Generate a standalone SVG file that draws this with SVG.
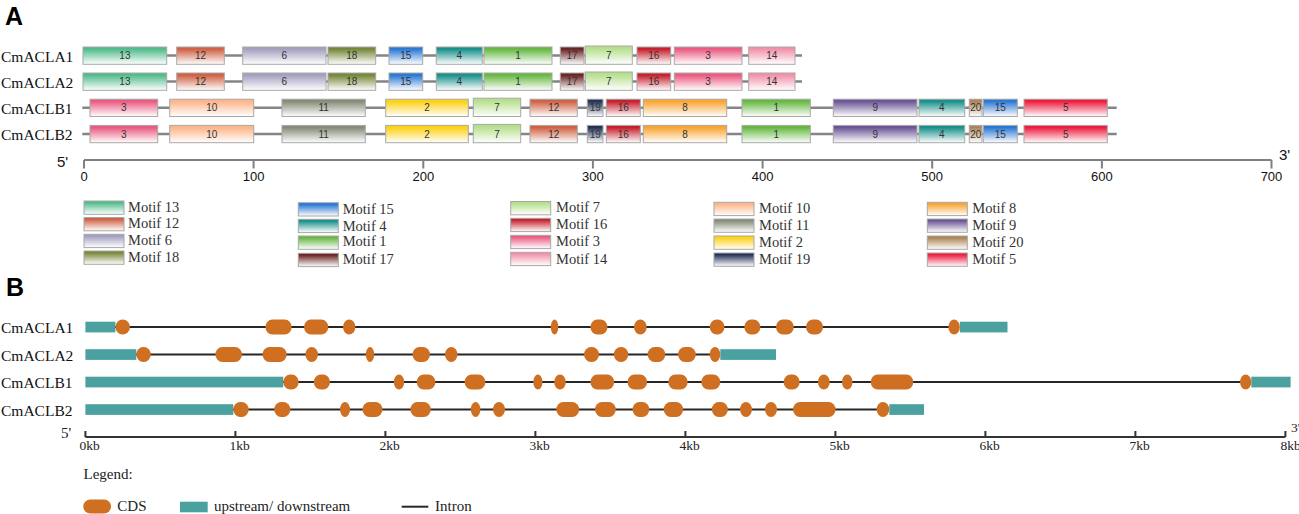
<svg xmlns="http://www.w3.org/2000/svg" width="1299" height="514" viewBox="0 0 1299 514">
<style>
.pl{font-family:"Liberation Sans",Arial,sans-serif;font-weight:bold;font-size:25px;fill:#000}
.gn{font-family:"Liberation Serif","Times New Roman",serif;font-size:15.5px;fill:#111}
.bx{stroke:#a8a8a8;stroke-width:1}
.bn{font-family:"Liberation Sans",Arial,sans-serif;font-size:10px;fill:#333;text-anchor:middle}
.bb{stroke:#858585;stroke-width:2.5}
.ax{stroke:#808080;stroke-width:2;fill:none}
.axt{font-family:"Liberation Sans",Arial,sans-serif;font-size:13px;fill:#111;text-anchor:middle}
.pr{font-family:"Liberation Sans",Arial,sans-serif;font-size:15px;fill:#111}
.lg{font-family:"Liberation Serif","Times New Roman",serif;font-size:14.5px;fill:#333}
.lb{font-family:"Liberation Serif","Times New Roman",serif;font-size:15px;fill:#222}
.cds{fill:#cf6f22}
.utr{fill:#4aa19f}
.intr{stroke:#262626;stroke-width:2}
.axb{stroke:#333;stroke-width:2;fill:none}
.kb{font-family:"Liberation Serif","Times New Roman",serif;font-size:13.5px;fill:#222}
</style>
<defs>
<linearGradient id="m1" x1="0" y1="0" x2="0" y2="1"><stop offset="0" stop-color="#66b843"/><stop offset="0.12" stop-color="#66b843"/><stop offset="1" stop-color="#fff"/></linearGradient>
<linearGradient id="m2" x1="0" y1="0" x2="0" y2="1"><stop offset="0" stop-color="#fcd116"/><stop offset="0.12" stop-color="#fcd116"/><stop offset="1" stop-color="#fff"/></linearGradient>
<linearGradient id="m3" x1="0" y1="0" x2="0" y2="1"><stop offset="0" stop-color="#ea5a80"/><stop offset="0.12" stop-color="#ea5a80"/><stop offset="1" stop-color="#fff"/></linearGradient>
<linearGradient id="m4" x1="0" y1="0" x2="0" y2="1"><stop offset="0" stop-color="#19908a"/><stop offset="0.12" stop-color="#19908a"/><stop offset="1" stop-color="#fff"/></linearGradient>
<linearGradient id="m5" x1="0" y1="0" x2="0" y2="1"><stop offset="0" stop-color="#ee1c3e"/><stop offset="0.12" stop-color="#ee1c3e"/><stop offset="1" stop-color="#fff"/></linearGradient>
<linearGradient id="m6" x1="0" y1="0" x2="0" y2="1"><stop offset="0" stop-color="#a3a0bf"/><stop offset="0.12" stop-color="#a3a0bf"/><stop offset="1" stop-color="#fff"/></linearGradient>
<linearGradient id="m7" x1="0" y1="0" x2="0" y2="1"><stop offset="0" stop-color="#b5df8c"/><stop offset="0.12" stop-color="#b5df8c"/><stop offset="1" stop-color="#fff"/></linearGradient>
<linearGradient id="m8" x1="0" y1="0" x2="0" y2="1"><stop offset="0" stop-color="#f8a534"/><stop offset="0.12" stop-color="#f8a534"/><stop offset="1" stop-color="#fff"/></linearGradient>
<linearGradient id="m9" x1="0" y1="0" x2="0" y2="1"><stop offset="0" stop-color="#6a5596"/><stop offset="0.12" stop-color="#6a5596"/><stop offset="1" stop-color="#fff"/></linearGradient>
<linearGradient id="m10" x1="0" y1="0" x2="0" y2="1"><stop offset="0" stop-color="#fdb58a"/><stop offset="0.12" stop-color="#fdb58a"/><stop offset="1" stop-color="#fff"/></linearGradient>
<linearGradient id="m11" x1="0" y1="0" x2="0" y2="1"><stop offset="0" stop-color="#858c78"/><stop offset="0.12" stop-color="#858c78"/><stop offset="1" stop-color="#fff"/></linearGradient>
<linearGradient id="m12" x1="0" y1="0" x2="0" y2="1"><stop offset="0" stop-color="#cf6144"/><stop offset="0.12" stop-color="#cf6144"/><stop offset="1" stop-color="#fff"/></linearGradient>
<linearGradient id="m13" x1="0" y1="0" x2="0" y2="1"><stop offset="0" stop-color="#52bb8c"/><stop offset="0.12" stop-color="#52bb8c"/><stop offset="1" stop-color="#fff"/></linearGradient>
<linearGradient id="m14" x1="0" y1="0" x2="0" y2="1"><stop offset="0" stop-color="#f291aa"/><stop offset="0.12" stop-color="#f291aa"/><stop offset="1" stop-color="#fff"/></linearGradient>
<linearGradient id="m15" x1="0" y1="0" x2="0" y2="1"><stop offset="0" stop-color="#2a78d4"/><stop offset="0.12" stop-color="#2a78d4"/><stop offset="1" stop-color="#fff"/></linearGradient>
<linearGradient id="m16" x1="0" y1="0" x2="0" y2="1"><stop offset="0" stop-color="#c6202c"/><stop offset="0.12" stop-color="#c6202c"/><stop offset="1" stop-color="#fff"/></linearGradient>
<linearGradient id="m17" x1="0" y1="0" x2="0" y2="1"><stop offset="0" stop-color="#6a2424"/><stop offset="0.12" stop-color="#6a2424"/><stop offset="1" stop-color="#fff"/></linearGradient>
<linearGradient id="m18" x1="0" y1="0" x2="0" y2="1"><stop offset="0" stop-color="#76873a"/><stop offset="0.12" stop-color="#76873a"/><stop offset="1" stop-color="#fff"/></linearGradient>
<linearGradient id="m19" x1="0" y1="0" x2="0" y2="1"><stop offset="0" stop-color="#253156"/><stop offset="0.12" stop-color="#253156"/><stop offset="1" stop-color="#fff"/></linearGradient>
<linearGradient id="m20" x1="0" y1="0" x2="0" y2="1"><stop offset="0" stop-color="#ad8357"/><stop offset="0.12" stop-color="#ad8357"/><stop offset="1" stop-color="#fff"/></linearGradient>
</defs>
<rect width="1299" height="514" fill="#fff"/>

<!-- Panel A -->
<text class="pl" x="5" y="25">A</text>

<g id="A-CmACLA1">
<text class="gn" x="1" y="61.5">CmACLA1</text>
<line class="bb" x1="83" y1="55.5" x2="802" y2="55.5"/>
<rect class="bx" x="83" y="47" width="83.7" height="17.3" fill="url(#m13)"/><text class="bn" x="124.9" y="59.1">13</text>
<rect class="bx" x="176.7" y="47" width="47.6" height="17.3" fill="url(#m12)"/><text class="bn" x="200.5" y="59.1">12</text>
<rect class="bx" x="242.7" y="47" width="83.3" height="17.3" fill="url(#m6)"/><text class="bn" x="284.3" y="59.1">6</text>
<rect class="bx" x="328" y="47" width="47.7" height="17.3" fill="url(#m18)"/><text class="bn" x="351.8" y="59.1">18</text>
<rect class="bx" x="389" y="47" width="33.7" height="17.3" fill="url(#m15)"/><text class="bn" x="405.8" y="59.1">15</text>
<rect class="bx" x="436.3" y="47" width="46" height="17.3" fill="url(#m4)"/><text class="bn" x="459.3" y="59.1">4</text>
<rect class="bx" x="484" y="47" width="68" height="17.3" fill="url(#m1)"/><text class="bn" x="518" y="59.1">1</text>
<rect class="bx" x="560.3" y="47" width="23.7" height="17.3" fill="url(#m17)"/><text class="bn" x="572.1" y="59.1">17</text>
<rect class="bx" x="585.3" y="46" width="47" height="18.3" fill="url(#m7)"/><text class="bn" x="608.8" y="59.1">7</text>
<rect class="bx" x="637" y="47" width="33.7" height="17.3" fill="url(#m16)"/><text class="bn" x="653.8" y="59.1">16</text>
<rect class="bx" x="674.3" y="47" width="67.7" height="17.3" fill="url(#m3)"/><text class="bn" x="708.1" y="59.1">3</text>
<rect class="bx" x="748.7" y="47" width="46.3" height="17.3" fill="url(#m14)"/><text class="bn" x="771.8" y="59.1">14</text>
</g>

<g id="A-CmACLA2">
<text class="gn" x="1" y="87.5">CmACLA2</text>
<line class="bb" x1="83" y1="81.5" x2="802" y2="81.5"/>
<rect class="bx" x="83" y="73" width="83.7" height="17.3" fill="url(#m13)"/><text class="bn" x="124.9" y="85.1">13</text>
<rect class="bx" x="176.7" y="73" width="47.6" height="17.3" fill="url(#m12)"/><text class="bn" x="200.5" y="85.1">12</text>
<rect class="bx" x="242.7" y="73" width="83.3" height="17.3" fill="url(#m6)"/><text class="bn" x="284.3" y="85.1">6</text>
<rect class="bx" x="328" y="73" width="47.7" height="17.3" fill="url(#m18)"/><text class="bn" x="351.8" y="85.1">18</text>
<rect class="bx" x="389" y="73" width="33.7" height="17.3" fill="url(#m15)"/><text class="bn" x="405.8" y="85.1">15</text>
<rect class="bx" x="436.3" y="73" width="46" height="17.3" fill="url(#m4)"/><text class="bn" x="459.3" y="85.1">4</text>
<rect class="bx" x="484" y="73" width="68" height="17.3" fill="url(#m1)"/><text class="bn" x="518" y="85.1">1</text>
<rect class="bx" x="560.3" y="73" width="23.7" height="17.3" fill="url(#m17)"/><text class="bn" x="572.1" y="85.1">17</text>
<rect class="bx" x="585.3" y="72" width="47" height="18.3" fill="url(#m7)"/><text class="bn" x="608.8" y="85.1">7</text>
<rect class="bx" x="637" y="73" width="33.7" height="17.3" fill="url(#m16)"/><text class="bn" x="653.8" y="85.1">16</text>
<rect class="bx" x="674.3" y="73" width="67.7" height="17.3" fill="url(#m3)"/><text class="bn" x="708.1" y="85.1">3</text>
<rect class="bx" x="748.7" y="73" width="46.3" height="17.3" fill="url(#m14)"/><text class="bn" x="771.8" y="85.1">14</text>
</g>

<g id="A-CmACLB1">
<text class="gn" x="1" y="113.8">CmACLB1</text>
<line class="bb" x1="82.3" y1="107.8" x2="1116.7" y2="107.8"/>
<rect class="bx" x="90" y="99.2" width="67.7" height="17.3" fill="url(#m3)"/><text class="bn" x="123.8" y="111.4">3</text>
<rect class="bx" x="169.7" y="99.2" width="84" height="17.3" fill="url(#m10)"/><text class="bn" x="211.7" y="111.4">10</text>
<rect class="bx" x="282" y="99.2" width="83.3" height="17.3" fill="url(#m11)"/><text class="bn" x="323.7" y="111.4">11</text>
<rect class="bx" x="385.7" y="99.2" width="82.6" height="17.3" fill="url(#m2)"/><text class="bn" x="427" y="111.4">2</text>
<rect class="bx" x="473.3" y="98.2" width="47.4" height="18.3" fill="url(#m7)"/><text class="bn" x="497" y="111.4">7</text>
<rect class="bx" x="530" y="99.2" width="47.3" height="17.3" fill="url(#m12)"/><text class="bn" x="553.7" y="111.4">12</text>
<rect class="bx" x="587.3" y="99.2" width="15.7" height="17.3" fill="url(#m19)"/><text class="bn" x="595.2" y="111.4">19</text>
<rect class="bx" x="606.3" y="99.2" width="34" height="17.3" fill="url(#m16)"/><text class="bn" x="623.3" y="111.4">16</text>
<rect class="bx" x="643.3" y="99.2" width="83.4" height="17.3" fill="url(#m8)"/><text class="bn" x="685" y="111.4">8</text>
<rect class="bx" x="742" y="99.2" width="68.3" height="17.3" fill="url(#m1)"/><text class="bn" x="776.2" y="111.4">1</text>
<rect class="bx" x="833.3" y="99.2" width="83.7" height="17.3" fill="url(#m9)"/><text class="bn" x="875.2" y="111.4">9</text>
<rect class="bx" x="919" y="99.2" width="45.7" height="17.3" fill="url(#m4)"/><text class="bn" x="941.9" y="111.4">4</text>
<rect class="bx" x="969.3" y="99.2" width="12.7" height="17.3" fill="url(#m20)"/><text class="bn" x="975.7" y="111.4">20</text>
<rect class="bx" x="983.3" y="99.2" width="34" height="17.3" fill="url(#m15)"/><text class="bn" x="1000.3" y="111.4">15</text>
<rect class="bx" x="1024" y="99.2" width="83.3" height="17.3" fill="url(#m5)"/><text class="bn" x="1065.7" y="111.4">5</text>
</g>

<g id="A-CmACLB2">
<text class="gn" x="1" y="140">CmACLB2</text>
<line class="bb" x1="82.3" y1="134" x2="1116.7" y2="134"/>
<rect class="bx" x="90" y="125.4" width="67.7" height="17.3" fill="url(#m3)"/><text class="bn" x="123.8" y="137.6">3</text>
<rect class="bx" x="169.7" y="125.4" width="84" height="17.3" fill="url(#m10)"/><text class="bn" x="211.7" y="137.6">10</text>
<rect class="bx" x="282" y="125.4" width="83.3" height="17.3" fill="url(#m11)"/><text class="bn" x="323.7" y="137.6">11</text>
<rect class="bx" x="385.7" y="125.4" width="82.6" height="17.3" fill="url(#m2)"/><text class="bn" x="427" y="137.6">2</text>
<rect class="bx" x="473.3" y="124.4" width="47.4" height="18.3" fill="url(#m7)"/><text class="bn" x="497" y="137.6">7</text>
<rect class="bx" x="530" y="125.4" width="47.3" height="17.3" fill="url(#m12)"/><text class="bn" x="553.7" y="137.6">12</text>
<rect class="bx" x="587.3" y="125.4" width="15.7" height="17.3" fill="url(#m19)"/><text class="bn" x="595.2" y="137.6">19</text>
<rect class="bx" x="606.3" y="125.4" width="34" height="17.3" fill="url(#m16)"/><text class="bn" x="623.3" y="137.6">16</text>
<rect class="bx" x="643.3" y="125.4" width="83.4" height="17.3" fill="url(#m8)"/><text class="bn" x="685" y="137.6">8</text>
<rect class="bx" x="742" y="125.4" width="68.3" height="17.3" fill="url(#m1)"/><text class="bn" x="776.2" y="137.6">1</text>
<rect class="bx" x="833.3" y="125.4" width="83.7" height="17.3" fill="url(#m9)"/><text class="bn" x="875.2" y="137.6">9</text>
<rect class="bx" x="919" y="125.4" width="45.7" height="17.3" fill="url(#m4)"/><text class="bn" x="941.9" y="137.6">4</text>
<rect class="bx" x="969.3" y="125.4" width="12.7" height="17.3" fill="url(#m20)"/><text class="bn" x="975.7" y="137.6">20</text>
<rect class="bx" x="983.3" y="125.4" width="34" height="17.3" fill="url(#m15)"/><text class="bn" x="1000.3" y="137.6">15</text>
<rect class="bx" x="1024" y="125.4" width="83.3" height="17.3" fill="url(#m5)"/><text class="bn" x="1065.7" y="137.6">5</text>
</g>

<g id="A-axis">
<text class="pr" x="57" y="167">5'</text>
<text class="pr" x="1279" y="160">3'</text>
<path class="ax" d="M84,160H1271.5M84,160V168.5M253.6,160V168.5M423.3,160V168.5M592.9,160V168.5M762.6,160V168.5M932.2,160V168.5M1101.9,160V168.5M1271.5,160V168.5"/>
<text class="axt" x="84" y="181">0</text>
<text class="axt" x="253.6" y="181">100</text>
<text class="axt" x="423.3" y="181">200</text>
<text class="axt" x="592.9" y="181">300</text>
<text class="axt" x="762.6" y="181">400</text>
<text class="axt" x="932.2" y="181">500</text>
<text class="axt" x="1101.9" y="181">600</text>
<text class="axt" x="1271.5" y="181">700</text>
</g>

<g id="A-legend">
<rect class="bx" x="84" y="201" width="40" height="13.3" fill="url(#m13)"/><text class="lg" x="128" y="211.5">Motif 13</text>
<rect class="bx" x="84" y="217.5" width="40" height="13.3" fill="url(#m12)"/><text class="lg" x="128" y="228">Motif 12</text>
<rect class="bx" x="84" y="234.3" width="40" height="13.3" fill="url(#m6)"/><text class="lg" x="128" y="245">Motif 6</text>
<rect class="bx" x="84" y="251" width="40" height="13.3" fill="url(#m18)"/><text class="lg" x="128" y="262">Motif 18</text>

<rect class="bx" x="298.3" y="202.7" width="40" height="13.3" fill="url(#m15)"/><text class="lg" x="342.7" y="213.5">Motif 15</text>
<rect class="bx" x="298.3" y="219.3" width="40" height="13.3" fill="url(#m4)"/><text class="lg" x="342.7" y="231">Motif 4</text>
<rect class="bx" x="298.3" y="236" width="40" height="13.3" fill="url(#m1)"/><text class="lg" x="342.7" y="246">Motif 1</text>
<rect class="bx" x="298.3" y="253.3" width="40" height="13.3" fill="url(#m17)"/><text class="lg" x="342.7" y="264">Motif 17</text>

<rect class="bx" x="510.7" y="201.5" width="40" height="13.3" fill="url(#m7)"/><text class="lg" x="556" y="212">Motif 7</text>
<rect class="bx" x="510.7" y="218.3" width="40" height="13.3" fill="url(#m16)"/><text class="lg" x="556" y="229">Motif 16</text>
<rect class="bx" x="510.7" y="235.3" width="40" height="13.3" fill="url(#m3)"/><text class="lg" x="556" y="246">Motif 3</text>
<rect class="bx" x="510.7" y="252.3" width="40" height="13.3" fill="url(#m14)"/><text class="lg" x="556" y="263.5">Motif 14</text>

<rect class="bx" x="714" y="202.3" width="40" height="13.3" fill="url(#m10)"/><text class="lg" x="759" y="213">Motif 10</text>
<rect class="bx" x="714" y="219" width="40" height="13.3" fill="url(#m11)"/><text class="lg" x="759" y="230">Motif 11</text>
<rect class="bx" x="714" y="236" width="40" height="13.3" fill="url(#m2)"/><text class="lg" x="759" y="247">Motif 2</text>
<rect class="bx" x="714" y="253" width="40" height="13.3" fill="url(#m19)"/><text class="lg" x="759" y="264">Motif 19</text>

<rect class="bx" x="927.3" y="202.3" width="40" height="13.3" fill="url(#m8)"/><text class="lg" x="972.3" y="213">Motif 8</text>
<rect class="bx" x="927.3" y="219" width="40" height="13.3" fill="url(#m9)"/><text class="lg" x="972.3" y="230">Motif 9</text>
<rect class="bx" x="927.3" y="236" width="40" height="13.3" fill="url(#m20)"/><text class="lg" x="972.3" y="247">Motif 20</text>
<rect class="bx" x="927.3" y="253" width="40" height="13.3" fill="url(#m5)"/><text class="lg" x="972.3" y="264">Motif 5</text>
</g>

<!-- Panel B -->
<text class="pl" x="6" y="296">B</text>

<g id="B-CmACLA1">
<text class="gn" x="1" y="333">CmACLA1</text>
<line class="intr" x1="110" y1="327" x2="955" y2="327"/>
<rect class="utr" x="85.4" y="321.7" width="30" height="10.7"/>
<rect class="utr" x="959.8" y="321.7" width="47.7" height="10.7"/>
<g class="cds">
<rect x="115.4" y="319.5" width="14.6" height="15" rx="7.3" ry="7.5"/>
<rect x="265.4" y="319.5" width="26.3" height="15" rx="7" ry="7.5"/>
<rect x="304" y="319.5" width="24.3" height="15" rx="7" ry="7.5"/>
<rect x="343" y="319.5" width="12.4" height="15" rx="6.2" ry="7.5"/>
<rect x="550.8" y="319.5" width="7.5" height="15" rx="3.75" ry="7.5"/>
<rect x="590.4" y="319.5" width="17.1" height="15" rx="7" ry="7.5"/>
<rect x="634" y="319.5" width="12.7" height="15" rx="6.35" ry="7.5"/>
<rect x="709.7" y="319.5" width="14.8" height="15" rx="7" ry="7.5"/>
<rect x="744.3" y="319.5" width="16.1" height="15" rx="7" ry="7.5"/>
<rect x="776" y="319.5" width="17.8" height="15" rx="7" ry="7.5"/>
<rect x="806" y="319.5" width="17" height="15" rx="7" ry="7.5"/>
<rect x="948.4" y="319.5" width="11.4" height="15" rx="5.7" ry="7.5"/>
</g>
</g>

<g id="B-CmACLA2">
<text class="gn" x="1" y="360.5">CmACLA2</text>
<line class="intr" x1="130" y1="354.5" x2="716" y2="354.5"/>
<rect class="utr" x="85.4" y="349.2" width="50.9" height="10.7"/>
<rect class="utr" x="720.3" y="349.2" width="55.7" height="10.7"/>
<g class="cds">
<rect x="136.3" y="347" width="14.5" height="15" rx="7" ry="7.5"/>
<rect x="215.4" y="347" width="26.6" height="15" rx="7" ry="7.5"/>
<rect x="262.5" y="347" width="24.2" height="15" rx="7" ry="7.5"/>
<rect x="305.4" y="347" width="12.6" height="15" rx="6.3" ry="7.5"/>
<rect x="365.8" y="347" width="8.4" height="15" rx="4.2" ry="7.5"/>
<rect x="412.5" y="347" width="17.5" height="15" rx="7" ry="7.5"/>
<rect x="445" y="347" width="12.5" height="15" rx="6.25" ry="7.5"/>
<rect x="584" y="347" width="15" height="15" rx="7" ry="7.5"/>
<rect x="613.8" y="347" width="14.5" height="15" rx="7" ry="7.5"/>
<rect x="647.6" y="347" width="17.7" height="15" rx="7" ry="7.5"/>
<rect x="678" y="347" width="17.8" height="15" rx="7" ry="7.5"/>
<rect x="709.7" y="347" width="10.6" height="15" rx="5.3" ry="7.5"/>
</g>
</g>

<g id="B-CmACLB1">
<text class="gn" x="1" y="388">CmACLB1</text>
<line class="intr" x1="280" y1="382" x2="1248" y2="382"/>
<rect class="utr" x="85.4" y="376.7" width="197.9" height="10.7"/>
<rect class="utr" x="1251.3" y="376.7" width="39.3" height="10.7"/>
<g class="cds">
<rect x="283.3" y="374.5" width="15.4" height="15" rx="7" ry="7.5"/>
<rect x="313.8" y="374.5" width="16.2" height="15" rx="7" ry="7.5"/>
<rect x="393.8" y="374.5" width="10.4" height="15" rx="5.2" ry="7.5"/>
<rect x="416.7" y="374.5" width="18.7" height="15" rx="7" ry="7.5"/>
<rect x="464.6" y="374.5" width="20.8" height="15" rx="7" ry="7.5"/>
<rect x="533.3" y="374.5" width="9.2" height="15" rx="4.6" ry="7.5"/>
<rect x="554.2" y="374.5" width="11.6" height="15" rx="5.8" ry="7.5"/>
<rect x="590.4" y="374.5" width="23.8" height="15" rx="7" ry="7.5"/>
<rect x="627.5" y="374.5" width="19.6" height="15" rx="7" ry="7.5"/>
<rect x="668.3" y="374.5" width="19.4" height="15" rx="7" ry="7.5"/>
<rect x="701.3" y="374.5" width="19" height="15" rx="7" ry="7.5"/>
<rect x="783.6" y="374.5" width="16.1" height="15" rx="7" ry="7.5"/>
<rect x="817.9" y="374.5" width="11.8" height="15" rx="5.9" ry="7.5"/>
<rect x="842" y="374.5" width="10.5" height="15" rx="5.25" ry="7.5"/>
<rect x="870.7" y="374.5" width="42.6" height="15" rx="7" ry="7.5"/>
<rect x="1240" y="374.5" width="11.3" height="15" rx="5.65" ry="7.5"/>
</g>
</g>

<g id="B-CmACLB2">
<text class="gn" x="1" y="415.5">CmACLB2</text>
<line class="intr" x1="230" y1="409.5" x2="885" y2="409.5"/>
<rect class="utr" x="85.4" y="404.2" width="147.9" height="10.7"/>
<rect class="utr" x="889.3" y="404.2" width="34.7" height="10.7"/>
<g class="cds">
<rect x="233.3" y="402" width="15.4" height="15" rx="7" ry="7.5"/>
<rect x="274.2" y="402" width="16.2" height="15" rx="7" ry="7.5"/>
<rect x="340" y="402" width="10" height="15" rx="5" ry="7.5"/>
<rect x="362.5" y="402" width="20" height="15" rx="7" ry="7.5"/>
<rect x="410.4" y="402" width="20.4" height="15" rx="7" ry="7.5"/>
<rect x="470.8" y="402" width="9.6" height="15" rx="4.8" ry="7.5"/>
<rect x="493" y="402" width="12" height="15" rx="6" ry="7.5"/>
<rect x="556.3" y="402" width="22.9" height="15" rx="7" ry="7.5"/>
<rect x="595" y="402" width="20.8" height="15" rx="7" ry="7.5"/>
<rect x="632.5" y="402" width="16.8" height="15" rx="7" ry="7.5"/>
<rect x="663.7" y="402" width="19.4" height="15" rx="7" ry="7.5"/>
<rect x="711.8" y="402" width="16.1" height="15" rx="7" ry="7.5"/>
<rect x="740" y="402" width="12" height="15" rx="6" ry="7.5"/>
<rect x="765" y="402" width="12" height="15" rx="6" ry="7.5"/>
<rect x="793" y="402" width="42.6" height="15" rx="7" ry="7.5"/>
<rect x="876.6" y="402" width="12.7" height="15" rx="6.35" ry="7.5"/>
</g>
</g>

<g id="B-axis">
<text class="lb" x="61" y="438">5'</text>
<text class="kb" x="1291" y="432">3'</text>
<path class="axb" d="M85.4,437H1285.4M85.4,431V437M235.4,431V437M385.4,431V437M535.4,431V437M685.4,431V437M835.4,431V437M985.4,431V437M1135.4,431V437M1285.4,431V437"/>
<text class="kb" x="79.4" y="450">0kb</text>
<text class="kb" x="229.4" y="450">1kb</text>
<text class="kb" x="379.4" y="450">2kb</text>
<text class="kb" x="529.4" y="450">3kb</text>
<text class="kb" x="679.4" y="450">4kb</text>
<text class="kb" x="829.4" y="450">5kb</text>
<text class="kb" x="979.4" y="450">6kb</text>
<text class="kb" x="1129.4" y="450">7kb</text>
<text class="kb" x="1280.4" y="450">8kb</text>
</g>

<g id="B-legend">
<text class="lb" x="83.5" y="479">Legend:</text>
<rect class="cds" x="83.3" y="499.5" width="27.7" height="14" rx="7" ry="7"/>
<text class="lb" x="117.3" y="511">CDS</text>
<rect class="utr" x="180" y="501.7" width="27.7" height="10.6"/>
<text class="lb" x="214" y="511">upstream/ downstream</text>
<line class="intr" x1="401.7" y1="506.7" x2="428.3" y2="506.7"/>
<text class="lb" x="435" y="511">Intron</text>
</g>
</svg>
